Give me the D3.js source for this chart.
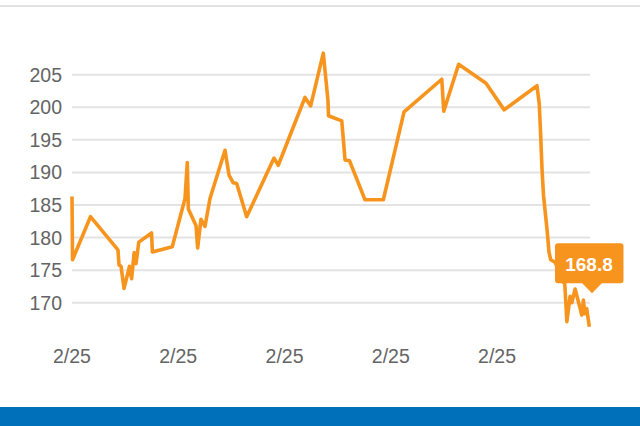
<!DOCTYPE html>
<html><head><meta charset="utf-8">
<script src="https://cdn.jsdelivr.net/npm/d3@7/dist/d3.min.js"></script>
<style>
html,body{margin:0;padding:0;background:#fff;}
svg{display:block;}
</style></head>
<body>
<svg id="c" width="640" height="426"></svg>
<script>
// minutes since market open (9:30) and price
const minutes = [0,0.4,13.9,34.6,35.4,36.9,39.2,43.3,44.9,46.8,48.2,50.3,59.9,60.5,75.5,85.1,86.8,87.6,93.4,94.6,97.1,100.1,103.9,115.2,118.2,121.4,124.0,131.5,152.1,155.3,175.4,179.7,189.2,192.7,193.1,203.1,205.6,208.9,220.6,234.4,250.0,278.4,279.9,291.1,311.7,325.4,350.1,351.8,352.7,353.9,355.0,356.5,357.9,359.1,360.4,363.9,368.5,371.0,372.6,375.0,376.3,378.8,382.5,383.8,385.0,386.2,387.5,389.5];
const prices  = [186.3,176.6,183.2,178.1,175.8,175.6,172.2,175.6,173.7,177.7,176.0,179.3,180.7,177.8,178.6,186.0,191.5,184.4,181.8,178.4,182.8,181.7,186.0,193.4,189.6,188.4,188.3,183.2,192.2,191.1,201.5,200.2,208.3,201.1,198.7,197.9,191.9,191.8,185.8,185.8,199.3,204.3,199.4,206.6,203.7,199.6,203.3,200.5,196.5,190.4,186.5,183.5,180.7,177.8,176.6,176.2,173.5,172.9,167.1,171.0,170.0,172.1,169.2,168.1,170.4,168.3,169.1,166.3];
const yTicks = [170,175,180,185,190,195,200,205];
const xTicks = [0,80,160,240,320];
const xTickLabels = ["2/25","2/25","2/25","2/25","2/25"];
const lastPrice = "168.8";

const svg = d3.select("#c");
const W = 640, H = 426;
const orange = "#F7941E";
const grey = "#646464";
const font = "'Liberation Sans', Arial, Helvetica, sans-serif";

// top rule
svg.append("rect").attr("x",0).attr("y",5).attr("width",W).attr("height",2).attr("fill","#e2e2e2");
// bottom blue band
svg.append("rect").attr("x",0).attr("y",407).attr("width",W).attr("height",19).attr("fill","#0070BA");

const x = d3.scaleLinear().domain([0,390]).range([72,590]);
const y = d3.scaleLinear().domain([165,210]).range([335.3,42.1]);

// grid
const g = svg.append("g");
g.selectAll("line.grid").data(yTicks).enter().append("line")
  .attr("x1",72).attr("x2",590)
  .attr("y1",d=>y(d)).attr("y2",d=>y(d))
  .attr("stroke","#e3e3e3").attr("stroke-width",2);

// y labels
g.selectAll("text.yl").data(yTicks).enter().append("text")
  .attr("x",62).attr("y",d=>y(d)).attr("dy","0.36em")
  .attr("text-anchor","end").attr("fill",grey)
  .attr("font-family",font).attr("font-size",19.5)
  .text(d=>d);

// x labels
g.selectAll("text.xl").data(xTicks).enter().append("text")
  .attr("x",d=>x(d)).attr("y",363)
  .attr("text-anchor","middle").attr("fill",grey)
  .attr("font-family",font).attr("font-size",19.5)
  .text((d,i)=>xTickLabels[i]);

// line
const data = minutes.map((m,i)=>({t:m,v:prices[i]}));
const line = d3.line().x(d=>x(d.t)).y(d=>y(d.v));
svg.append("path").datum(data).attr("d",line)
  .attr("fill","none").attr("stroke",orange).attr("stroke-width",3.6)
  .attr("stroke-linejoin","round").attr("stroke-linecap","butt");

// tooltip
const tipX = x(390)+2, tipY = 293.3;
const tt = svg.append("g");
tt.append("rect").attr("x",555).attr("y",243.3).attr("width",68.5).attr("height",40)
  .attr("rx",3).attr("fill",orange);
tt.append("path").attr("d",`M${tipX-10},283 L${tipX},${tipY} L${tipX+10},283 Z`).attr("fill",orange);
tt.append("text").attr("x",589).attr("y",270.5).attr("text-anchor","middle")
  .attr("fill","#fff").attr("font-family",font).attr("font-weight","bold").attr("font-size",19)
  .text(lastPrice);
</script>
</body></html>
